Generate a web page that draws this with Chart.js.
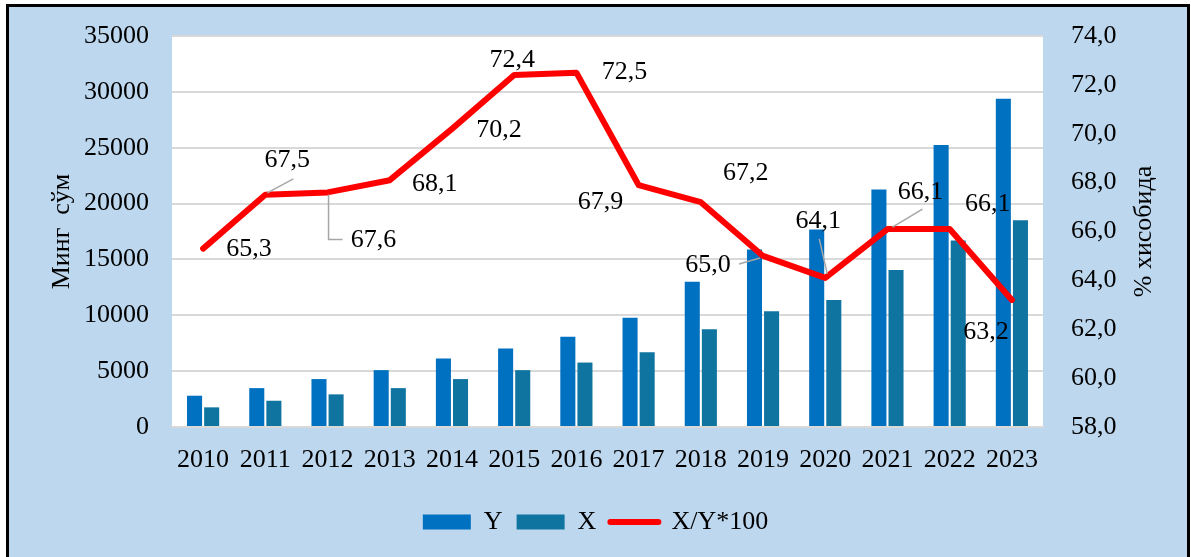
<!DOCTYPE html>
<html lang="en">
<head>
    <meta charset="UTF-8" />
    <title>Y, X va X/Y*100</title>
    <script src="https://cdn.jsdelivr.net/npm/chart.js"></script>
    <style>
        html, body { margin: 0; padding: 0; background: #fff; }
        .frame {
            position: absolute; left: 6px; top: 4px;
            width: 1178px; height: 560px;
            border: 3px solid #000; border-bottom: none;
            background: #BDD7EE;
        }
        .chart-box { position: absolute; left: 0; top: 0; width: 1191px; height: 557px; }
    </style>
</head>
<body>
    <div class="frame"></div>
    <div class="chart-box">
        <canvas id="mainChart" width="1191" height="557"></canvas>
    </div>

    <script>
        const years = ['2010', '2011', '2012', '2013', '2014', '2015', '2016',
                       '2017', '2018', '2019', '2020', '2021', '2022', '2023'];
        const valuesY = [2800, 3480, 4290, 5090, 6130, 7020, 8070,
                         9790, 13010, 15890, 17680, 21250, 25240, 29380];
        const valuesX = [1760, 2350, 2920, 3480, 4290, 5090, 5770,
                         6700, 8750, 10360, 11370, 14050, 16700, 18510];
        const ratio = [65.3, 67.5, 67.6, 68.1, 70.2, 72.4, 72.5,
                       67.9, 67.2, 65.0, 64.1, 66.1, 66.1, 63.2];
        const leftTicks = [0, 5000, 10000, 15000, 20000, 25000, 30000, 35000];
        const rightTicks = [58, 60, 62, 64, 66, 68, 70, 72, 74];

        const FONT = "'Liberation Serif', 'Times New Roman', serif";
        const fmt = v => v.toFixed(1).replace('.', ',');

        // where each ratio label sits relative to its point (dx, dy), and an optional leader line
        const labelPlace = [
            { dx: 46, dy: 1 },
            { dx: 22, dy: -35, leader: [[2, -2], [28, -16]] },
            { dx: 46, dy: 48, leader: [[1, 2], [1, 47], [15, 47]] },
            { dx: 45, dy: 4 },
            { dx: 47, dy: 1 },
            { dx: -2, dy: -15 },
            { dx: 48, dy: 0 },
            { dx: -38, dy: 17 },
            { dx: 45, dy: -29 },
            { dx: -55, dy: 9, leader: [[-24, 8], [-3, 2]] },
            { dx: -7, dy: -57, leader: [[-6, -39], [2, -4]] },
            { dx: 33, dy: -37, leader: [[5, -2], [35, -20]] },
            { dx: 38, dy: -25 },
            { dx: -26, dy: 32 }
        ];

        const framePlugin = {
            id: 'framePlugin',
            beforeDraw(chart) {
                const { ctx, chartArea } = chart;
                ctx.save();
                ctx.fillStyle = '#ffffff';
                ctx.fillRect(chartArea.left, chartArea.top - 1,
                             chartArea.right - chartArea.left, chartArea.bottom - chartArea.top + 1);
                ctx.restore();
            },
            afterDraw(chart) {
                const { ctx, chartArea } = chart;
                const mid = (chartArea.top + chartArea.bottom) / 2;
                ctx.save();
                ctx.fillStyle = '#000';
                ctx.font = '26px ' + FONT;
                ctx.textAlign = 'center';
                ctx.textBaseline = 'middle';
                // both axis titles read bottom-to-top
                [[62, 'Минг  сўм'], [1144, '% хисобида']].forEach(([x, text]) => {
                    ctx.save();
                    ctx.translate(x, mid);
                    ctx.rotate(-Math.PI / 2);
                    ctx.fillText(text, 0, 0);
                    ctx.restore();
                });
                ctx.restore();
            }
        };

        const ratioLabels = {
            id: 'ratioLabels',
            afterDatasetsDraw(chart) {
                const { ctx } = chart;
                const meta = chart.getDatasetMeta(2);
                ctx.save();
                ctx.font = '26px ' + FONT;
                ctx.textAlign = 'center';
                ctx.textBaseline = 'middle';
                meta.data.forEach((pt, i) => {
                    const p = labelPlace[i];
                    if (p.leader) {
                        ctx.strokeStyle = '#A6A6A6';
                        ctx.lineWidth = 1.5;
                        ctx.beginPath();
                        p.leader.forEach(([lx, ly], k) => {
                            if (k === 0) ctx.moveTo(pt.x + lx, pt.y + ly);
                            else ctx.lineTo(pt.x + lx, pt.y + ly);
                        });
                        ctx.stroke();
                    }
                    ctx.fillStyle = '#000';
                    ctx.fillText(fmt(ratio[i]), pt.x + p.dx, pt.y + p.dy);
                });
                ctx.restore();
            }
        };

        const ctx = document.getElementById('mainChart').getContext('2d');
        new Chart(ctx, {
            data: {
                labels: years,
                datasets: [
                    {
                        type: 'bar', label: 'Y', data: valuesY, yAxisID: 'y',
                        backgroundColor: '#0070C0',
                        barPercentage: 0.88, categoryPercentage: 0.55, order: 2
                    },
                    {
                        type: 'bar', label: 'X', data: valuesX, yAxisID: 'y',
                        backgroundColor: '#1074A0',
                        barPercentage: 0.88, categoryPercentage: 0.55, order: 2
                    },
                    {
                        type: 'line', label: 'X/Y*100', data: ratio, yAxisID: 'y1',
                        borderColor: '#FF0000', borderWidth: 6,
                        borderJoinStyle: 'round', borderCapStyle: 'round',
                        pointRadius: 0, tension: 0, order: 1
                    }
                ]
            },
            options: {
                responsive: false,
                animation: false,
                layout: { padding: { top: 36, bottom: 12, left: 0, right: 0 } },
                plugins: {
                    tooltip: { enabled: false },
                    legend: {
                        position: 'bottom',
                        labels: {
                            usePointStyle: true,
                            pointStyleWidth: 48,
                            boxHeight: 15,
                            padding: 14,
                            color: '#000',
                            font: { family: FONT, size: 26 },
                            generateLabels(chart) {
                                return chart.data.datasets.map((ds, i) => ({
                                    text: ds.label,
                                    datasetIndex: i,
                                    fillStyle: ds.type === 'bar' ? ds.backgroundColor : ds.borderColor,
                                    strokeStyle: ds.type === 'bar' ? ds.backgroundColor : ds.borderColor,
                                    lineWidth: ds.type === 'bar' ? 0 : 6,
                                    lineCap: 'round',
                                    pointStyle: ds.type === 'bar' ? 'rect' : 'line',
                                    hidden: false
                                }));
                            }
                        }
                    }
                },
                scales: {
                    x: {
                        grid: { display: false, drawTicks: false },
                        border: { display: true, color: '#D9D9D9', width: 2 },
                        ticks: { color: '#000', padding: 18, font: { family: FONT, size: 26 } },
                        afterFit(scale) { scale.height = 68; }
                    },
                    y: {
                        position: 'left',
                        min: 0, max: 35000,
                        afterBuildTicks(scale) { scale.ticks = leftTicks.map(v => ({ value: v })); },
                        grid: {
                            color: '#D9D9D9', lineWidth: 2,
                            drawTicks: true, tickLength: 20, tickColor: 'transparent'
                        },
                        border: { display: false },
                        ticks: {
                            color: '#000', padding: 3, font: { family: FONT, size: 26 },
                            callback: v => String(v)
                        },
                        afterFit(scale) { scale.width = 172; }
                    },
                    y1: {
                        position: 'right',
                        min: 58, max: 74,
                        afterBuildTicks(scale) { scale.ticks = rightTicks.map(v => ({ value: v })); },
                        grid: {
                            drawOnChartArea: false, color: 'transparent',
                            drawTicks: true, tickLength: 25, tickColor: 'transparent'
                        },
                        border: { display: false },
                        ticks: {
                            color: '#000', padding: 3, font: { family: FONT, size: 26 },
                            callback: v => fmt(v)
                        },
                        afterFit(scale) { scale.width = 148; }
                    }
                }
            },
            plugins: [framePlugin, ratioLabels]
        });
    </script>
</body>
</html>
